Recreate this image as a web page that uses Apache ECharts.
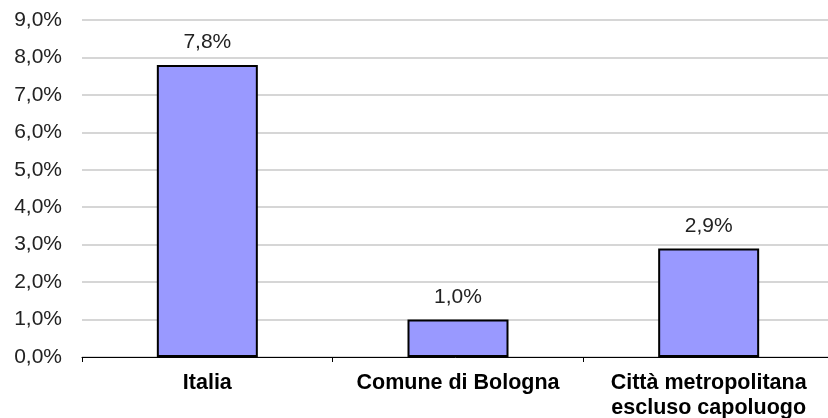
<!DOCTYPE html>
<html>
<head>
<meta charset="utf-8">
<script src="https://cdn.jsdelivr.net/npm/echarts@6/dist/echarts.min.js"></script>
<style>
  html, body { margin: 0; padding: 0; background: #fff; }
  #chart { width: 828px; height: 418px; }
</style>
</head>
<body>
<div id="chart"></div>
<script>
// Categories and percentage values
const categories = ['Italia', 'Comune di Bologna', 'Città metropolitana\nescluso capoluogo'];
const values = [7.8, 1.0, 2.9];

const FONT = '"Liberation Sans", Arial, sans-serif';
const fmt = v => v.toFixed(1).replace('.', ',') + '%';

const chart = echarts.init(document.getElementById('chart'));
chart.setOption({
  animation: false,
  textStyle: { fontFamily: FONT },
  grid: {
    left: 82, right: -6, top: 20, bottom: 61,
    containLabel: false, outerBoundsMode: 'none'
  },
  xAxis: {
    type: 'category',
    data: categories,
    axisLine: { lineStyle: { color: '#000', width: 1 } },
    axisTick: { show: true, interval: 0, length: 5, lineStyle: { color: '#000' } },
    axisLabel: {
      interval: 0, hideOverlap: false,
      color: '#000', fontSize: 21.5, fontWeight: 'bold', margin: 14, lineHeight: 25,
      fontFamily: FONT
    }
  },
  yAxis: {
    type: 'value',
    min: 0, max: 9, interval: 1,
    axisLine: { show: false },
    axisTick: { show: false },
    axisLabel: {
      color: '#222', fontSize: 21, margin: 20,
      formatter: v => fmt(v),
      fontFamily: FONT
    },
    splitLine: { lineStyle: { color: '#c8c8c8', width: 1.5 } }
  },
  series: [{
    type: 'bar',
    data: values,
    barWidth: 101,
    itemStyle: { color: '#9999ff', borderColor: '#000', borderWidth: 2 },
    label: {
      show: true, position: 'top', distance: 12,
      color: '#222', fontSize: 21,
      formatter: p => fmt(p.value),
      fontFamily: FONT
    }
  }]
});
</script>
</body>
</html>
